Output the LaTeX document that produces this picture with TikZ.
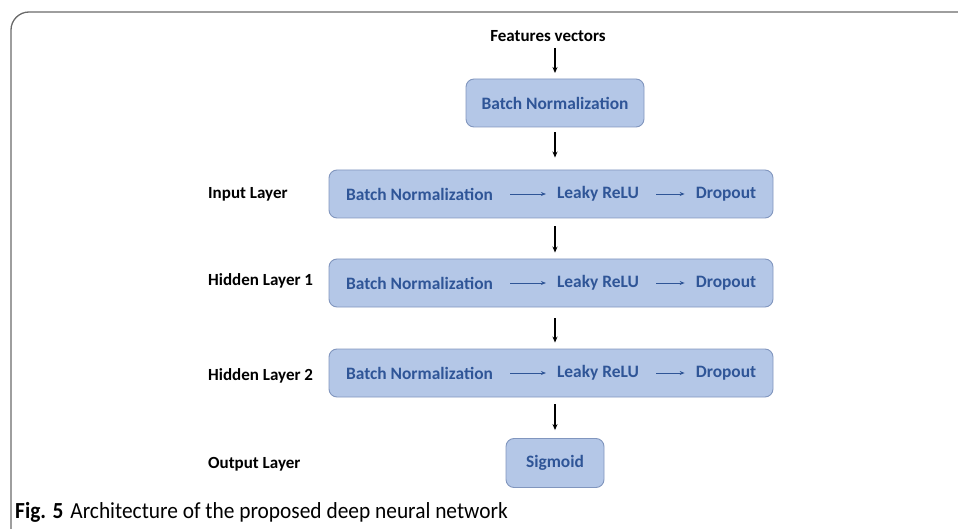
\documentclass[tikz,border=0pt]{standalone}
\usepackage{fontspec}
\setmainfont{Carlito}
\newfontfamily\capfont[FakeStretch=0.93]{Carlito}
\usetikzlibrary{arrows.meta}
\definecolor{boxfill}{HTML}{B4C7E7}
\definecolor{boxline}{HTML}{8196BE}
\definecolor{boxtext}{HTML}{2F5597}
\definecolor{framecol}{HTML}{6A6A6A}
\tikzset{
  blk/.style={draw=boxline, fill=boxfill, rounded corners=8pt, line width=0.9pt, inner sep=0pt},
  intext/.style={text=boxtext, font=\fontsize{17.4}{20}\selectfont\bfseries, inner sep=0pt, anchor=center},
  lbl/.style={font=\fontsize{17}{20}\selectfont\bfseries, inner sep=0pt, anchor=west},
  varrow/.style={line width=1.1pt, -{Stealth[length=6pt,width=5pt]}},
  harrow/.style={line width=0.9pt, draw=boxtext, -{Stealth[length=5pt,width=4pt]}, shorten <=17pt, shorten >=11pt},
}
\begin{document}
\begin{tikzpicture}[x=1pt,y=-1pt]
\useasboundingbox (0,0) rectangle (958,529);
% frame
\draw[framecol, line width=1.3pt, rounded corners=18pt] (11,529) -- (11,12) -- (958,12);
% top
\node[font=\fontsize{17}{20}\selectfont\bfseries, inner sep=0pt] (fv) at (548,36) {Features vectors};
\coordinate (fvs) at (555,48);
\coordinate (fve) at (555,73);
\node[blk, minimum width=178pt, minimum height=48pt] (bn0) at (555,103) {};
\node[intext] (bn0t) at (555,103) {Batch Normalization};
% layer boxes
\node[blk, minimum width=444pt, minimum height=48pt] (L1) at (551,194) {};
\node[blk, minimum width=444pt, minimum height=48pt] (L2) at (551,283) {};
\node[blk, minimum width=444pt, minimum height=48pt] (L3) at (551,373) {};
\node[blk, minimum width=98pt, minimum height=49pt] (out) at (555,463) {};
\node[intext] (sig) at (555,463) {Sigmoid};
% inner texts
\foreach \r/\y in {1/194,2/283,3/373}{
  \node[intext] (b\r) at (419.5,\y) {Batch Normalization};
  \node[intext] (k\r) at (598,\y) {Leaky ReLU};
  \node[intext] (d\r) at (726,\y) {Dropout};
  \draw[harrow] (b\r) -- (k\r);
  \draw[harrow] (k\r) -- (d\r);
}
% labels
\node[lbl] (l1) at (208,194) {Input Layer};
\node[lbl] (l2) at (208,281) {Hidden Layer 1};
\node[lbl] (l3) at (208,376) {Hidden Layer 2};
\node[lbl] (l4) at (208,464) {Output Layer};
% vertical arrows
\draw[varrow] (fvs) -- (fve);
\draw[varrow, shorten <=5pt, shorten >=12pt] (bn0.south) -- (bn0.south |- L1.north);
\draw[varrow, shorten <=8pt, shorten >=6pt] (bn0.south |- L1.south) -- (bn0.south |- L2.north);
\draw[varrow, shorten <=11pt, shorten >=6pt] (bn0.south |- L2.south) -- (bn0.south |- L3.north);
\draw[varrow, shorten <=7pt, shorten >=8pt] (bn0.south |- L3.south) -- (out.north);
% caption
\node[inner sep=0pt, anchor=west, font=\fontsize{23}{26}\selectfont] (cap) at (15,512) {\capfont\textbf{Fig. 5}\hspace{7pt}Architecture of the proposed deep neural network};
\end{tikzpicture}
\end{document}
